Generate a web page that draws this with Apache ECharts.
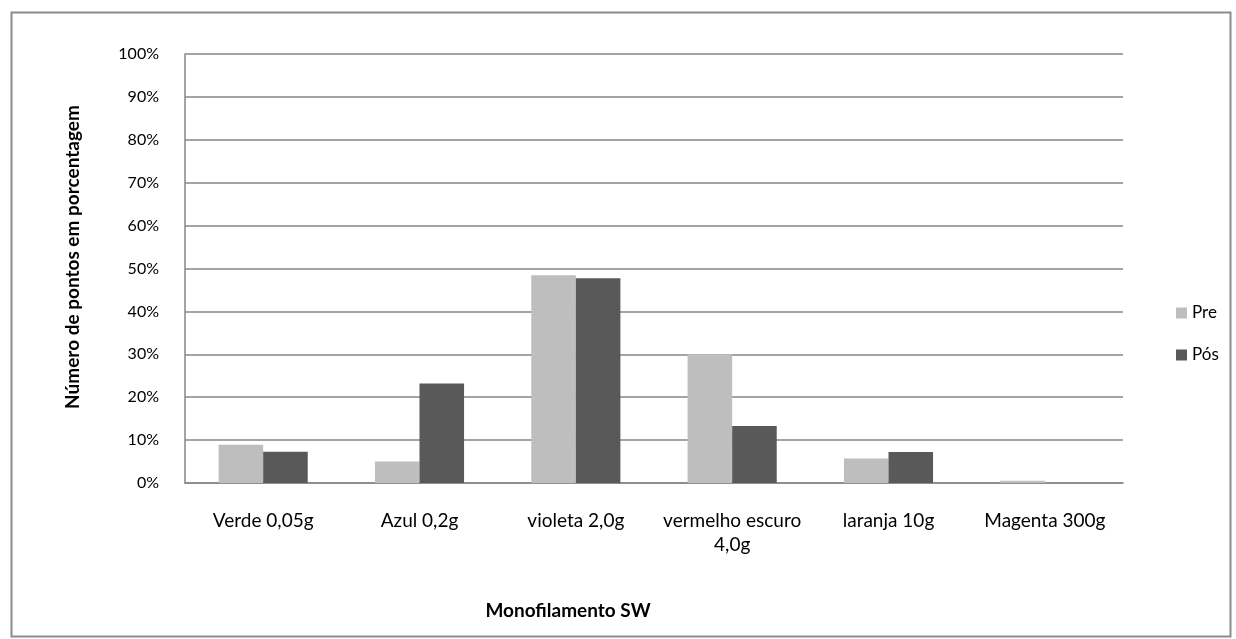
<!DOCTYPE html>
<html><head><meta charset="utf-8">
<script src="https://cdn.jsdelivr.net/npm/echarts@6/dist/echarts.min.js"></script>
<style>html,body{margin:0;padding:0;background:#fff}#c{width:1236px;height:639px}</style>
</head><body><div id="c"></div>
<script>
const categories = ['Verde 0,05g', 'Azul 0,2g', 'violeta 2,0g', 'vermelho escuro\n4,0g', 'laranja 10g', 'Magenta 300g'];
const preValues = [8.9, 5.0, 48.4, 30.0, 5.7, 0.5];
const posValues = [7.3, 23.2, 47.7, 13.3, 7.2, 0];
const seriesNames = ['Pre', 'Pós'];
const yTitle = 'Número de pontos em porcentagem';
const xTitle = 'Monofilamento SW';
const FONT = 'Lato';
const chart = echarts.init(document.getElementById('c'), null, {renderer: 'canvas'});
chart.setOption({
  backgroundColor: '#fff',
  animation: false,
  textStyle: {fontFamily: FONT},
  graphic: [{
    type: 'rect', left: 9, top: 10,
    shape: {width: 1219, height: 624},
    style: {fill: 'none', stroke: '#8c8c8c', lineWidth: 2}
  }, {
    type: 'text', x: 568, y: 611,
    style: {text: xTitle, font: 'bold 19px ' + FONT, fill: '#000', align: 'center', verticalAlign: 'middle'}
  }, {
    type: 'text', x: 73, y: 257, rotation: Math.PI / 2,
    style: {text: yTitle, font: 'bold 19px ' + FONT, fill: '#000', align: 'center', verticalAlign: 'middle'}
  }],
  grid: {left: 185, right: 113, top: 54, bottom: 156, containLabel: false},
  legend: {
    orient: 'vertical', left: 1171, top: 299,
    itemWidth: 11, itemHeight: 11, itemGap: 24,
    icon: 'rect',
    textStyle: {fontSize: 17, lineHeight: 18, color: '#000', fontFamily: FONT},
    data: seriesNames
  },
  xAxis: {
    type: 'category', data: categories,
    axisLine: {lineStyle: {color: '#868686', width: 1.5}},
    axisTick: {show: false},
    axisLabel: {fontSize: 19, color: '#000', margin: 26, lineHeight: 24, interval: 0, fontFamily: FONT}
  },
  yAxis: {
    type: 'value', min: 0, max: 100, interval: 10,
    axisLine: {show: true, lineStyle: {color: '#868686', width: 1.5}},
    axisTick: {show: false},
    axisLabel: {formatter: '{value}%', fontSize: 16, color: '#000', margin: 26, fontFamily: FONT},
    splitLine: {lineStyle: {color: '#868686', width: 1.5}}
  },
  series: [{
    name: seriesNames[0], type: 'bar', data: preValues,
    itemStyle: {color: '#bebebe'}, barGap: '0%', barCategoryGap: '43%'
  }, {
    name: seriesNames[1], type: 'bar', data: posValues,
    itemStyle: {color: '#595959'}, barGap: '0%', barCategoryGap: '43%'
  }]
});
</script></body></html>
